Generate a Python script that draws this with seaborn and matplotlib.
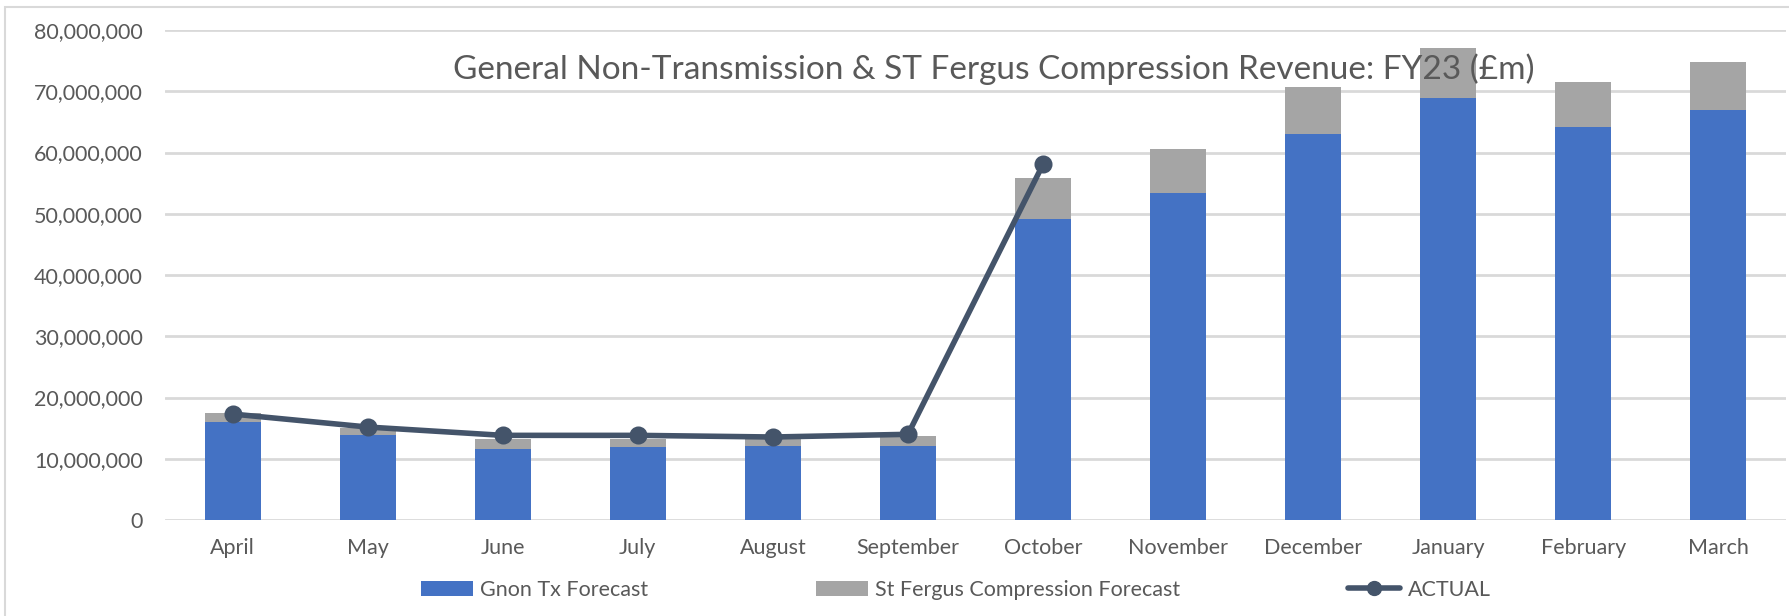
import numpy as np
import pandas as pd
import matplotlib
matplotlib.use("Agg")
import matplotlib.pyplot as plt
import seaborn as sns
from matplotlib.patches import Patch, Rectangle
from matplotlib.lines import Line2D
from matplotlib.ticker import FuncFormatter

months = ["April", "May", "June", "July", "August", "September",
          "October", "November", "December", "January", "February", "March"]
gnon_tx = [16.05, 13.93, 11.65, 11.87, 12.08, 12.08,
           49.1, 53.4, 62.97, 68.85, 64.2, 67.0]
fergus = [1.42, 1.14, 1.62, 1.40, 1.10, 1.63,
          6.7, 7.2, 7.73, 8.15, 7.36, 7.7]
actual_months = months[:7]
actual = [17.3, 15.18, 13.82, 13.82, 13.55, 13.99, 58.07]

scale = 1e6
df = pd.DataFrame({"month": months,
                   "gnon": np.array(gnon_tx) * scale,
                   "fergus": np.array(fergus) * scale})
df["total"] = df["gnon"] + df["fergus"]
dfa = pd.DataFrame({"month": actual_months, "actual": np.array(actual) * scale})

BLUE = "#4472C4"
GRAY = "#A5A5A5"
LINE = "#44546A"
TXT = "#595959"
GRID = "#D9D9D9"

sns.set_theme(style="white")
plt.rcParams["font.family"] = ["Lato", "DejaVu Sans"]

W, H = 1790, 616
fig = plt.figure(figsize=(W / 100, H / 100), dpi=100)
ax = fig.add_axes([165 / W, 1 - 520 / H, (1786 - 165) / W, (520 - 30) / H])

sns.barplot(data=df, x="month", y="total", order=months, color=GRAY,
            saturation=1, width=0.415, ax=ax, zorder=2, linewidth=0,
            edgecolor="none")
sns.barplot(data=df, x="month", y="gnon", order=months, color=BLUE,
            saturation=1, width=0.415, ax=ax, zorder=3, linewidth=0,
            edgecolor="none")
sns.pointplot(data=dfa, x="month", y="actual", order=months, color=LINE,
              markers="o", markersize=10, linewidth=4, ax=ax, zorder=5,
              errorbar=None)

ax.set_ylim(0, 80e6)
ax.set_xlim(-0.5, 11.5)
ax.set_yticks(np.arange(0, 80e6 + 1, 10e6))
ax.yaxis.set_major_formatter(FuncFormatter(lambda v, p: f"{v:,.0f}"))
ax.grid(axis="y", color=GRID, linewidth=2)
ax.grid(axis="x", visible=False)
ax.set_axisbelow(True)
for s in ax.spines.values():
    s.set_visible(False)
ax.tick_params(axis="y", length=0, pad=16, labelsize=15.5, labelcolor=TXT)
ax.tick_params(axis="x", length=0, pad=13, labelsize=15.5, labelcolor=TXT)
ax.set_xlabel("")
ax.set_ylabel("")

fig.text(994 / W, 1 - 69 / H,
         "General Non-Transmission & ST Fergus Compression Revenue: FY23 (£m)",
         ha="center", va="center", fontsize=24, color=TXT)

handles = [Patch(facecolor=BLUE, edgecolor="none"),
           Patch(facecolor=GRAY, edgecolor="none"),
           Line2D([], [], color=LINE, linewidth=4, marker="o", markersize=10)]
labels = ["Gnon Tx Forecast", "St Fergus Compression Forecast", "ACTUAL"]
fig.legend(handles, labels, loc="center left",
           bbox_to_anchor=(421 / W, 1 - 590 / H), ncol=3, frameon=False,
           fontsize=15.5, labelcolor=TXT, borderpad=0, borderaxespad=0,
           handlelength=2.4, handletextpad=0.35, columnspacing=7.8)

fig.patches.append(Rectangle((5 / W, -0.05), 1.2, 1 - 7 / H + 0.05,
                             transform=fig.transFigure, fill=False,
                             edgecolor="#D9D9D9", linewidth=1.5))

fig.savefig("out.png", dpi=100, facecolor="white")
